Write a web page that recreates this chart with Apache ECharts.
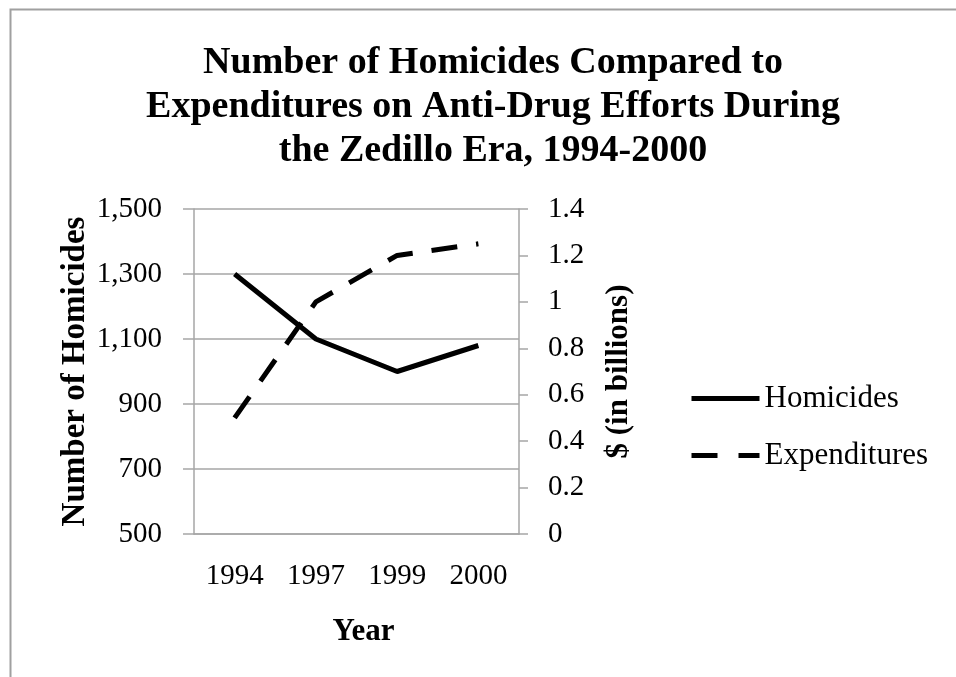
<!DOCTYPE html>
<html>
<head>
<meta charset="utf-8">
<script src="https://cdn.jsdelivr.net/npm/echarts@6/dist/echarts.min.js"></script>
<style>
  html, body { margin: 0; padding: 0; background: #fff; }
  #chart { width: 956px; height: 677px; }
</style>
</head>
<body>
<div id="chart"></div>
<script>
// data
const years = ['1994', '1997', '1999', '2000']
const homicides = [1300, 1100, 1000, 1080]
const expenditures = [0.5, 1.0, 1.2, 1.25]

const serif = '"Liberation Serif", "Times New Roman", serif'
const gray = '#a6a6a6'

let mycharts = echarts.init(document.getElementById('chart'))
mycharts.setOption({
  animation: false,
  backgroundColor: '#fff',
  // outer frame like the exported chart area
  graphic: [
    {
      type: 'rect',
      left: 8,
      top: 7,
      shape: { width: 1200, height: 1000 },
      style: { fill: 'none', stroke: '#a0a0a0', lineWidth: 2 },
      silent: true,
    },
  ],
  title: {
    text: 'Number of Homicides Compared to\nExpenditures on Anti-Drug Efforts During\nthe Zedillo Era, 1994-2000',
    left: 488,
    top: 36,
    textAlign: 'center',
    textStyle: {
      fontFamily: serif,
      fontWeight: 'bold',
      fontSize: 38,
      lineHeight: 44,
      color: '#000',
    },
  },
  legend: {
    orient: 'vertical',
    left: 689,
    top: 383,
    padding: 0,
    itemWidth: 68,
    itemHeight: 14,
    itemGap: 26,
    // just the line, no marker in the key
    itemStyle: { opacity: 0 },
    lineStyle: { width: 5 },
    textStyle: { fontFamily: serif, fontSize: 31, color: '#000' },
    data: [
      { name: 'Homicides' },
      { name: 'Expenditures', lineStyle: { type: [26, 21] } },
    ],
  },
  grid: {
    left: 194,
    right: 437,
    top: 209,
    bottom: 143,
  },
  xAxis: {
    type: 'category',
    data: years,
    boundaryGap: true,
    name: 'Year',
    nameLocation: 'middle',
    nameGap: 82,
    nameTextStyle: {
      fontFamily: serif,
      fontWeight: 'bold',
      fontSize: 31,
      color: '#000',
      padding: [0, 0, 0, 14],
    },
    axisLine: { show: true, lineStyle: { color: gray, width: 1.5 } },
    axisTick: { show: false },
    axisLabel: { fontFamily: serif, fontSize: 29, color: '#000', margin: 28 },
  },
  yAxis: [
    {
      type: 'value',
      min: 500,
      max: 1500,
      interval: 200,
      name: 'Number of Homicides',
      nameLocation: 'middle',
      nameRotate: 90,
      nameGap: 102,
      nameTextStyle: { fontFamily: serif, fontWeight: 'bold', fontSize: 33, color: '#000' },
      axisLine: { show: true, lineStyle: { color: gray, width: 1.5 } },
      axisTick: { show: true, length: 11, lineStyle: { color: gray, width: 1.5 } },
      splitLine: { show: true, lineStyle: { color: gray, width: 1.5 } },
      axisLabel: {
        fontFamily: serif,
        fontSize: 29,
        color: '#000',
        margin: 32,
        formatter: (v) => v.toLocaleString('en-US'),
      },
    },
    {
      type: 'value',
      position: 'right',
      min: 0,
      max: 1.4,
      interval: 0.2,
      name: '$ (in billions)',
      nameLocation: 'middle',
      nameRotate: 90,
      nameGap: 84,
      nameTextStyle: { fontFamily: serif, fontWeight: 'bold', fontSize: 31, color: '#000' },
      axisLine: { show: true, lineStyle: { color: gray, width: 1.5 } },
      axisTick: { show: true, length: 9, lineStyle: { color: gray, width: 1.5 } },
      splitLine: { show: false },
      axisLabel: {
        fontFamily: serif,
        fontSize: 29,
        color: '#000',
        margin: 29,
        formatter: (v) => String(Math.round(v * 10) / 10),
      },
    },
  ],
  series: [
    {
      name: 'Homicides',
      type: 'line',
      yAxisIndex: 0,
      data: homicides,
      symbol: 'none',
      lineStyle: { color: '#000', width: 5, type: 'solid' },
      itemStyle: { color: '#000' },
    },
    {
      name: 'Expenditures',
      type: 'line',
      yAxisIndex: 1,
      data: expenditures,
      symbol: 'none',
      lineStyle: { color: '#000', width: 5, type: [26, 19] },
      itemStyle: { color: '#000' },
    },
  ],
})
</script>
</body>
</html>
